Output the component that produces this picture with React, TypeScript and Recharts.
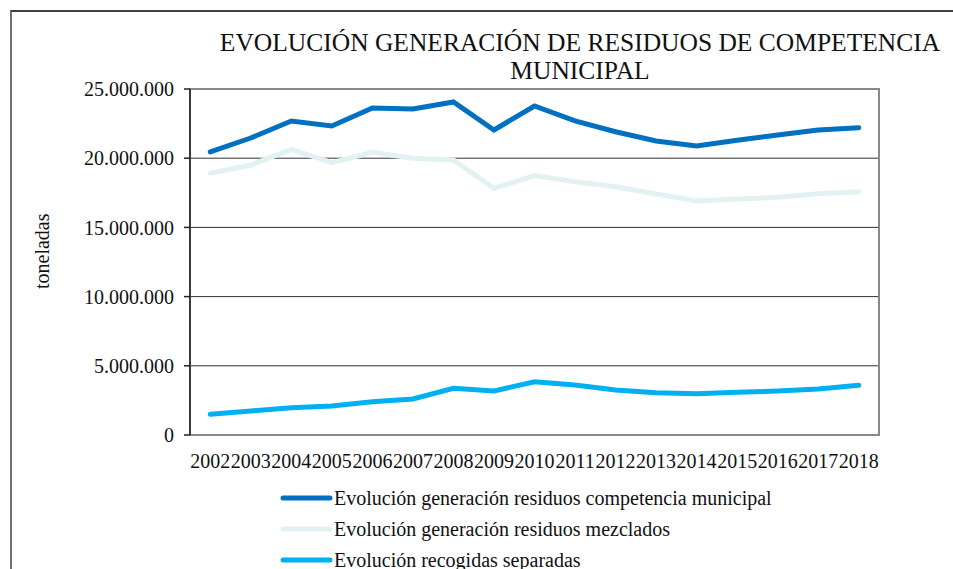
import React from "react";
import { LineChart, Line, XAxis, YAxis, CartesianGrid, ReferenceArea, Legend } from "recharts";

const years = [2002, 2003, 2004, 2005, 2006, 2007, 2008, 2009, 2010, 2011, 2012, 2013, 2014, 2015, 2016, 2017, 2018];
const municipal = [20450000, 21460000, 22690000, 22330000, 23630000, 23550000, 24060000, 22040000, 23770000, 22690000, 21910000, 21240000, 20880000, 21300000, 21680000, 22040000, 22200000];
const mezclados = [18910000, 19510000, 20640000, 19680000, 20430000, 19990000, 19870000, 17820000, 18740000, 18300000, 17940000, 17410000, 16910000, 17050000, 17170000, 17430000, 17580000];
const separadas = [1500000, 1730000, 1970000, 2100000, 2410000, 2600000, 3370000, 3180000, 3850000, 3610000, 3250000, 3060000, 2980000, 3080000, 3180000, 3320000, 3590000];
const yTicks = [0, 5000000, 10000000, 15000000, 20000000, 25000000];
const seriesNames = [
  "Evolución generación residuos competencia municipal",
  "Evolución generación residuos mezclados",
  "Evolución recogidas separadas",
];
const titleLines = ["EVOLUCIÓN GENERACIÓN DE RESIDUOS DE COMPETENCIA", "MUNICIPAL"];

const data = years.map((y, i) => ({ year: y, municipal: municipal[i], mezclados: mezclados[i], separadas: separadas[i] }));
const boundaries = [...years.map((y) => y - 0.5), years[years.length - 1] + 0.5];
const FONT = "'Liberation Serif', 'Times New Roman', serif";

const fmt = (v: number) => (v === 0 ? "0" : v.toLocaleString("de-DE"));

const LegendContent = (props: any) => {
  const { payload } = props;
  return (
    <div style={{ fontFamily: FONT, fontSize: 20, color: "#111", textAlign: "left" }}>
      {(payload || []).map((p: any, i: number) => (
        <div key={i} style={{ display: "flex", alignItems: "center", height: 31 }}>
          <svg width={54} height={10} style={{ display: "block" }}>
            <line x1={3} y1={5} x2={50} y2={5} stroke={p.color} strokeWidth={5} strokeLinecap="round" />
          </svg>
          <span style={{ marginLeft: 0, lineHeight: "20px" }}>{p.value}</span>
        </div>
      ))}
    </div>
  );
};

export default function App() {
  return (
    <div style={{ position: "absolute", left: 0, top: 0, width: 953, height: 569, background: "#fff", overflow: "hidden" }}>
      <div
        style={{
          position: "absolute",
          left: 10,
          top: 10,
          width: 960,
          height: 600,
          borderLeft: "2px solid #707070",
          borderTop: "2px solid #404040",
        }}
      />
      <div
        style={{
          position: "absolute",
          left: 200,
          top: 29,
          width: 760,
          textAlign: "center",
          fontFamily: FONT,
          fontSize: 25.5,
          lineHeight: "28px",
          color: "#111",
        }}
      >
        {titleLines.map((t, i) => (
          <div key={i}>{t}</div>
        ))}
      </div>
      <LineChart
        width={953}
        height={569}
        data={data}
        margin={{ top: 89, right: 74, left: 0, bottom: 94 }}
        style={{ position: "absolute", left: 0, top: 0, fontFamily: FONT }}
      >
        <CartesianGrid horizontal={true} vertical={false} stroke="#333" strokeWidth={1} xAxisId="marks" />
        <ReferenceArea xAxisId="marks" x1={boundaries[0]} x2={boundaries[boundaries.length - 1]} y1={0} y2={25000000} fill="none" stroke="#888" strokeWidth={2} ifOverflow="visible" />
        <XAxis
          xAxisId="marks"
          dataKey="year"
          type="number"
          domain={[boundaries[0], boundaries[boundaries.length - 1]]}
          ticks={boundaries}
          tick={false}
          tickLine={{ stroke: "#222", strokeWidth: 1.5 }}
          axisLine={{ stroke: "#222", strokeWidth: 1.5 }}
          tickSize={6}
          height={0}
          interval={0}
        />
        <XAxis
          xAxisId="labels"
          dataKey="year"
          type="number"
          domain={[boundaries[0], boundaries[boundaries.length - 1]]}
          ticks={years}
          interval={0}
          tickLine={false}
          axisLine={false}
          tickSize={6}
          tickMargin={13}
          height={40}
          tick={{ fill: "#111", fontSize: 20, fontFamily: FONT }}
        />
        <YAxis
          type="number"
          domain={[0, 25000000]}
          ticks={yTicks}
          width={190}
          tickFormatter={fmt}
          tickLine={{ stroke: "#222", strokeWidth: 1.5 }}
          axisLine={{ stroke: "#222", strokeWidth: 1.5 }}
          tickSize={6}
          tickMargin={10}
          interval={0}
          tick={{ fill: "#111", fontSize: 20, fontFamily: FONT }}
          label={{ value: "toneladas", angle: -90, position: "insideLeft", offset: 0, dx: 42, dy: 27, fill: "#111", fontSize: 20, fontFamily: FONT }}
        />
        <Line xAxisId="marks" type="linear" dataKey="municipal" name={seriesNames[0]} stroke="#0070C0" strokeWidth={5} dot={false} isAnimationActive={false} strokeLinecap="round" />
        <Line xAxisId="marks" type="linear" dataKey="mezclados" name={seriesNames[1]} stroke="#E2F2F3" strokeWidth={5} dot={false} isAnimationActive={false} strokeLinecap="round" />
        <Line xAxisId="marks" type="linear" dataKey="separadas" name={seriesNames[2]} stroke="#00B0F0" strokeWidth={5} dot={false} isAnimationActive={false} strokeLinecap="round" />
        <Legend
          content={<LegendContent />}
          layout="vertical"
          verticalAlign="middle"
          align="center"
          wrapperStyle={{ position: "absolute", left: 280, top: 482, width: 600, height: 100 }}
        />
      </LineChart>
    </div>
  );
}
